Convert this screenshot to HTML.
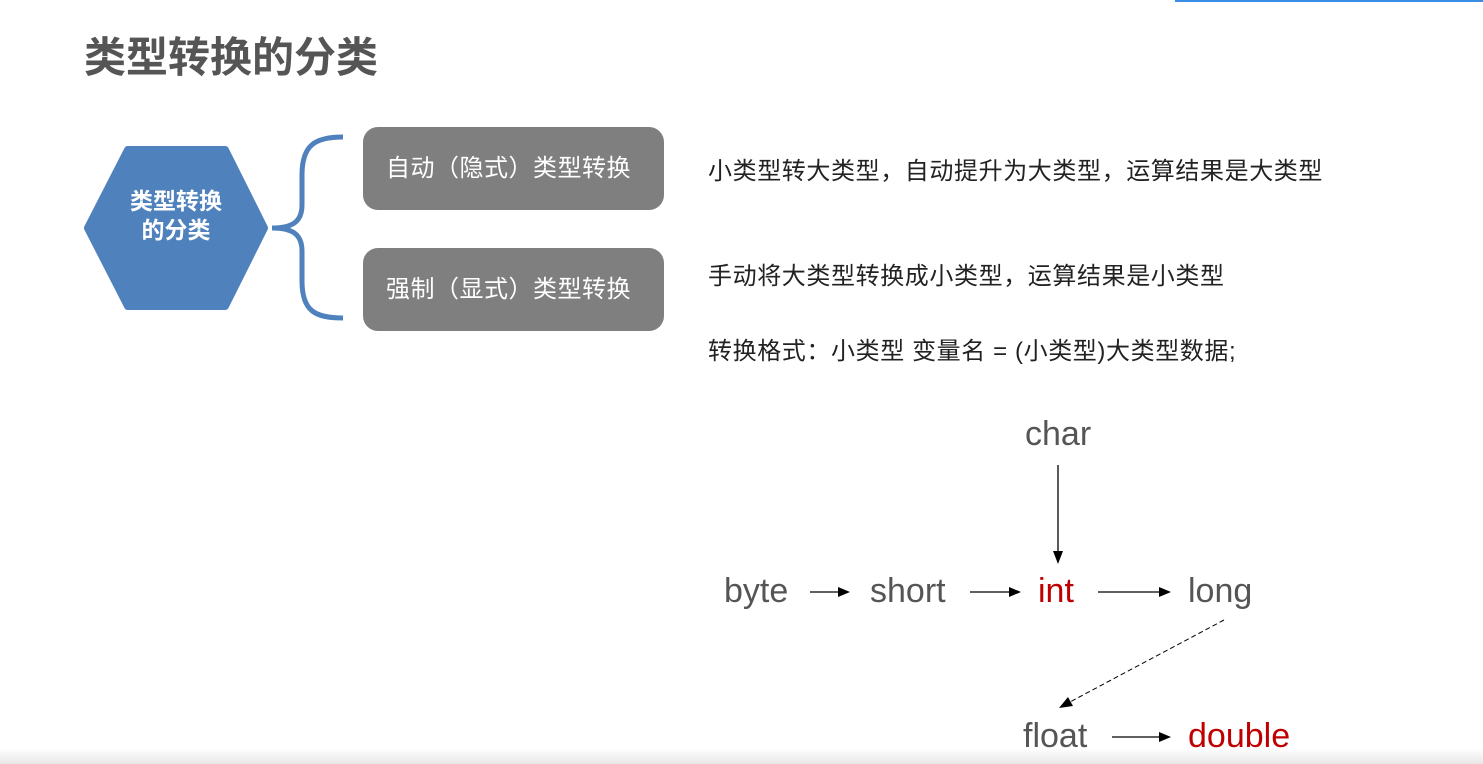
<!DOCTYPE html>
<html><head><meta charset="utf-8"><style>
*{margin:0;padding:0}
body{width:1483px;height:764px;background:#fff;position:relative;overflow:hidden;font-family:"Liberation Sans","Noto Sans CJK SC",sans-serif}
.t{position:absolute;white-space:nowrap;line-height:1}
.box{position:absolute;left:363px;width:301px;height:83px;background:#7f7f7f;border-radius:15px;color:#fff;font-size:24px;letter-spacing:0.5px;line-height:83px;padding-left:23px;box-sizing:border-box}
.r{font-size:24px;letter-spacing:0.6px;color:#222}
.d{font-size:34px;color:#555}
</style></head><body>
<div style="position:absolute;left:1175px;top:0;width:308px;height:2px;background:#3a8ee6"></div>
<div class="t" style="left:84px;top:37px;font-size:42px;font-weight:bold;color:#555">类型转换的分类</div>
<svg style="position:absolute;left:0;top:0" width="1483" height="764">
<polygon points="88,228 128,150 225,150 264,228 225,306 128,306" fill="#4f81bd" stroke="#4f81bd" stroke-width="8" stroke-linejoin="round"/>
<path d="M343,137 C315,137 302,145 302,175 L302,205 C302,222 292,228 272,228 C292,228 302,234 302,251 L302,281 C302,311 315,318 343,318" fill="none" stroke="#4f81bd" stroke-width="5"/>
<g stroke="#000" stroke-width="1.3" fill="#000">
<line x1="810" y1="592" x2="840" y2="592"/><polygon points="850,592 838,587 838,597" stroke="none"/>
<line x1="970" y1="592" x2="1010" y2="592"/><polygon points="1021,592 1009,587 1009,597" stroke="none"/>
<line x1="1098" y1="592" x2="1160" y2="592"/><polygon points="1171,592 1159,587 1159,597" stroke="none"/>
<line x1="1058" y1="465" x2="1058" y2="553"/><polygon points="1058,564 1053,551 1063,551" stroke="none"/>
<line x1="1224" y1="620" x2="1068" y2="703" stroke-dasharray="5,3" stroke-width="1"/><polygon points="1059,708 1068,697 1073,706" stroke="none"/>
<line x1="1112" y1="737" x2="1160" y2="737"/><polygon points="1171,737 1159,732 1159,742" stroke="none"/>
</g>
</svg>
<div class="t" style="left:84px;top:187px;width:184px;text-align:center;color:#fff;font-weight:bold;font-size:23px;line-height:29px">类型转换<br>的分类</div>
<div class="box" style="top:127px">自动（隐式）类型转换</div>
<div class="box" style="top:248px">强制（显式）类型转换</div>
<div class="t r" style="left:708px;top:160px">小类型转大类型，自动提升为大类型，运算结果是大类型</div>
<div class="t r" style="left:708px;top:265px">手动将大类型转换成小类型，运算结果是小类型</div>
<div class="t r" style="left:708px;top:340px">转换格式：小类型 变量名 = (小类型)大类型数据;</div>
<div class="t d" style="left:1025px;top:417px">char</div>
<div class="t d" style="left:724px;top:574px">byte</div>
<div class="t d" style="left:870px;top:574px">short</div>
<div class="t d" style="left:1038px;top:574px;color:#c00000">int</div>
<div class="t d" style="left:1188px;top:574px">long</div>
<div class="t d" style="left:1023px;top:719px">float</div>
<div class="t d" style="left:1188px;top:719px;color:#c00000">double</div>
<div style="position:absolute;left:0;top:748px;width:1483px;height:16px;background:linear-gradient(#fff,#e8e8e8)"></div>
</body></html>
